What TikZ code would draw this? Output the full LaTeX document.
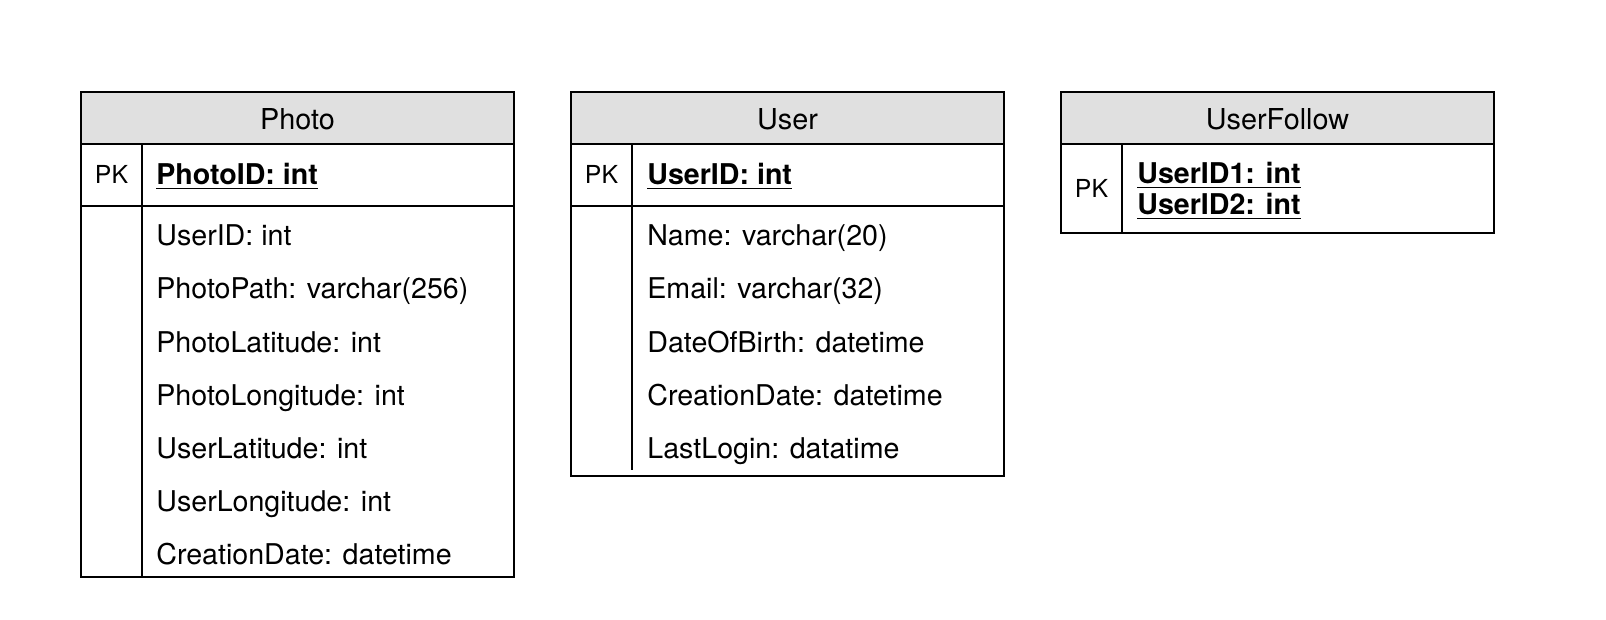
\documentclass[tikz,border=0pt]{standalone}
\usepackage{fontspec}
\setmainfont{TeX Gyre Heros}
\usetikzlibrary{positioning}
\definecolor{hdrgray}{RGB}{224,224,224}

\begin{document}
\begin{tikzpicture}
	[x=0.5pt,y=-0.5pt,
	tbl/.style={draw=black,line width=1pt},
	hdr/.style={fill=hdrgray},
	title/.style={anchor=base,inner sep=0pt,font=\fontsize{14.4}{17}\selectfont},
	fld/.style={anchor=base west,inner sep=0pt,font=\fontsize{14.3}{17}\selectfont},
	key/.style={fld,font=\fontsize{14.3}{17}\selectfont\bfseries},
	pk/.style={anchor=base,inner sep=0pt,font=\fontsize{12.4}{15}\selectfont}]
	\useasboundingbox (0,0) rectangle (1606,620);
	%PHOTO
	\fill[hdr] (81,92) rectangle (514,144);
	\draw[tbl] (81,92) rectangle (514,577);
	\draw[tbl] (81,144) -- (514,144);
	\draw[tbl] (81,206) -- (514,206);
	\draw[tbl] (142,144) -- (142,577);
	\node[title] (photo) at (297.5,130) {Photo};
	\node[pk] (photopk) at (111.5,184) {PK};
	\node[key] (photoid) at (156,185) {\underline{PhotoID: int}};
	\foreach \f [count=\i from 0] in {UserID: int,PhotoPath: varchar(256),PhotoLatitude: int,PhotoLongitude: int,UserLatitude: int,UserLongitude: int,CreationDate: datetime}
	\node[fld] (photo\i) at (156,246+53*\i) {\f};
	%USER
	\fill[hdr] (571,92) rectangle (1004,144);
	\draw[tbl] (571,92) rectangle (1004,476);
	\draw[tbl] (571,144) -- (1004,144);
	\draw[tbl] (571,206) -- (1004,206);
	\draw[tbl] (632,144) -- (632,470);
	\node[title] (user) at (787.5,130) {User};
	\node[pk] (userpk) at (601.5,184) {PK};
	\node[key] (userid) at (647,185) {\underline{UserID: int}};
	\foreach \f [count=\i from 0] in {Name: varchar(20),Email: varchar(32),DateOfBirth: datetime,CreationDate: datetime,LastLogin: datatime}
	\node[fld] (user\i) at (647,246+53*\i) {\f};
	%USERFOLLOW
	\fill[hdr] (1061,92) rectangle (1494,144);
	\draw[tbl] (1061,92) rectangle (1494,233);
	\draw[tbl] (1061,144) -- (1494,144);
	\draw[tbl] (1122,144) -- (1122,233);
	\node[title] (follow) at (1277.5,130) {UserFollow};
	\node[pk] (followpk) at (1091.5,198) {PK};
	\node[key] (followid1) at (1137,184) {\underline{UserID1: int}};
	\node[key] (followid2) at (1137,215) {\underline{UserID2: int}};
\end{tikzpicture}
\end{document}
